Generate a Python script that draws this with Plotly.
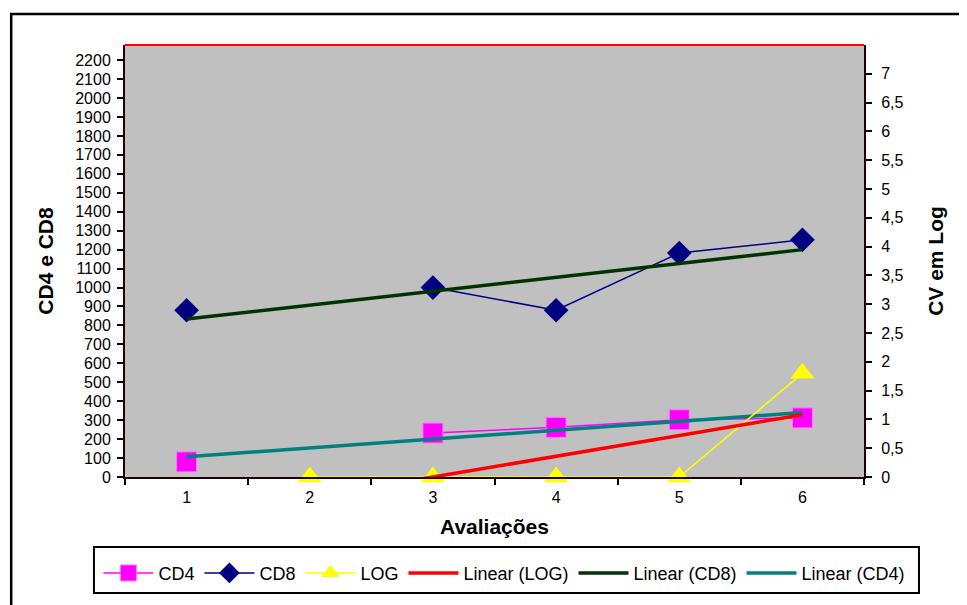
import numpy as np
import plotly.graph_objects as go

# ---- data ----
avaliacoes = ["1", "2", "3", "4", "5", "6"]
cd4 = [80, None, 232, 262, 302, 312]
cd8 = [880, None, 1000, 880, 1182, 1252]
log_cv = [None, 0, 0, 0, 0, 1.8]

left_ticks = list(range(0, 2201, 100))
right_tickvals = [0, 0.5, 1, 1.5, 2, 2.5, 3, 3.5, 4, 4.5, 5, 5.5, 6, 6.5, 7]
right_ticktext = ["0", "0,5", "1", "1,5", "2", "2,5", "3", "3,5", "4", "4,5",
                  "5", "5,5", "6", "6,5", "7"]


def linear_trend(values):
    pos = [i + 1 for i, v in enumerate(values) if v is not None]
    vals = [v for v in values if v is not None]
    slope, intercept = np.polyfit(pos, vals, 1)
    xs = [pos[0], pos[-1]]
    return [avaliacoes[p - 1] for p in xs], [slope * p + intercept for p in xs]


FONT = "Liberation Sans, Arial, sans-serif"

fig = go.Figure()

fig.add_trace(go.Scatter(
    x=avaliacoes, y=cd4, name="CD4", mode="lines+markers",
    line=dict(color="#FF00FF", width=1.5),
    marker=dict(symbol="square", size=20, color="#FF00FF",
                line=dict(color="#FF77FF", width=1)),
    connectgaps=False, yaxis="y"))
fig.add_trace(go.Scatter(
    x=avaliacoes, y=cd8, name="CD8", mode="lines+markers",
    line=dict(color="#000080", width=1.5),
    marker=dict(symbol="diamond", size=19, color="#000080"),
    connectgaps=False, yaxis="y"))
fig.add_trace(go.Scatter(
    x=avaliacoes, y=log_cv, name="LOG", mode="lines+markers",
    line=dict(color="#FFFF00", width=1.5),
    marker=dict(symbol="triangle-up", size=21, color="#FFFF00"),
    connectgaps=False, yaxis="y2", cliponaxis=False))

tx, ty = linear_trend(log_cv)
fig.add_trace(go.Scatter(x=tx, y=ty, name="Linear (LOG)", mode="lines",
                         line=dict(color="#FF0000", width=3.5), yaxis="y2"))
tx, ty = linear_trend(cd8)
fig.add_trace(go.Scatter(x=tx, y=ty, name="Linear (CD8)", mode="lines",
                         line=dict(color="#003300", width=3.5), yaxis="y"))
tx, ty = linear_trend(cd4)
fig.add_trace(go.Scatter(x=tx, y=ty, name="Linear (CD4)", mode="lines",
                         line=dict(color="#008080", width=3.5), yaxis="y"))

fig.update_layout(
    width=967, height=605,
    margin=dict(l=117, r=111, t=37, b=136, autoexpand=False),
    paper_bgcolor="white", plot_bgcolor="#C0C0C0",
    font=dict(family=FONT, size=16, color="black"),
    separators=",.",
    xaxis=dict(
        type="category", range=[-0.5, 5.5], tickson="boundaries",
        ticks="outside", ticklen=6,
        tickwidth=1.5, tickcolor="black", showgrid=False, zeroline=False,
        showline=True, linecolor="#200000", linewidth=2, automargin=False,
        tickfont=dict(size=16), ticklabelstandoff=5,
        title=dict(text="<b>Avaliações</b>", font=dict(size=21), standoff=14),
    ),
    yaxis=dict(
        range=[0, 2280], tickvals=left_ticks, ticks="outside", ticklen=6,
        tickwidth=1.5, tickcolor="black", showgrid=False, zeroline=False,
        showline=True, linecolor="#200000", linewidth=2, automargin=False,
        tickfont=dict(size=16), ticklabelstandoff=3,
        title=dict(text="<b>CD4 e CD8</b>", font=dict(size=21), standoff=16),
    ),
    yaxis2=dict(
        range=[0, 7.5], overlaying="y", side="right",
        tickvals=right_tickvals, ticktext=right_ticktext,
        ticks="outside", ticklen=6, tickwidth=1.5, tickcolor="black",
        showgrid=False, zeroline=False, showline=True, automargin=False,
        linecolor="#200000", linewidth=2, tickfont=dict(size=16),
        ticklabelstandoff=6,
        title=dict(text="<b>CV em Log</b>", font=dict(size=21), standoff=26),
    ),
    legend=dict(
        orientation="h", xref="paper", x=-0.036, xanchor="left",
        yref="paper", y=-0.18, yanchor="top",
        bgcolor="rgba(0,0,0,0)", borderwidth=0,
        font=dict(size=18), itemwidth=50, tracegroupgap=0,
    ),
    showlegend=True,
    shapes=[
        dict(type="line", xref="paper", yref="paper", x0=0, x1=1, y0=1, y1=1,
             line=dict(color="#FF0000", width=2)),
        dict(type="rect", xref="paper", yref="paper", x0=-0.154, x1=1.3,
             y0=-0.35, y1=1.072, line=dict(color="black", width=2.5),
             layer="below"),
        dict(type="rect", xref="paper", yref="paper", x0=-0.042, x1=1.0744,
             y0=-0.2685, y1=-0.162, line=dict(color="black", width=2),
             fillcolor="white", layer="below"),
    ],
)

fig.write_html("out.html")
